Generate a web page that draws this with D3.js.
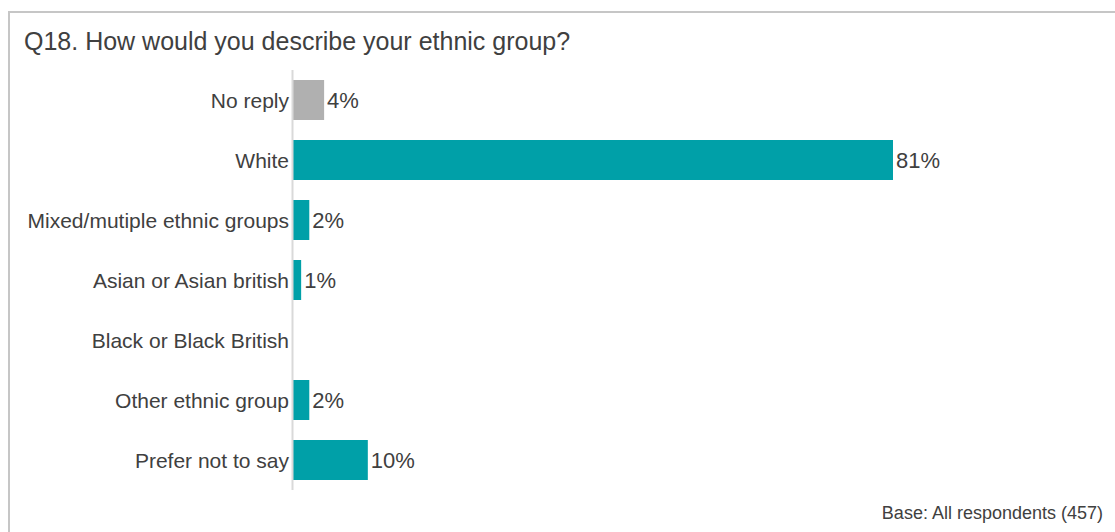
<!DOCTYPE html>
<html><head><meta charset="utf-8">
<script src="https://cdn.jsdelivr.net/npm/d3@7"></script>
<style>
body{margin:0;background:#fff;}
svg{display:block;font-family:"Liberation Sans",Arial,sans-serif;}
</style></head>
<body>
<script>
const categories = ["No reply","White","Mixed/mutiple ethnic groups","Asian or Asian british","Black or Black British","Other ethnic group","Prefer not to say"];
const values = [4.2, 81.0, 2.2, 1.1, 0, 2.2, 10.1];
const valueLabels = ["4%","81%","2%","1%","","2%","10%"];
const barColors = ["#b0b0b0","#00a0a8","#00a0a8","#00a0a8","#00a0a8","#00a0a8","#00a0a8"];
const title = "Q18. How would you describe your ethnic group?";
const baseNote = "Base: All respondents (457)";

const W = 1115, H = 532;
const svg = d3.select("body").append("svg").attr("width", W).attr("height", H);

// frame
svg.append("path").attr("d", `M9,${H} V12 H${W}`).attr("fill","none").attr("stroke","#c6c6c6").attr("stroke-width",2);

svg.append("text").attr("x",24).attr("y",50).attr("font-size",25).attr("fill","#404040").text(title);

const x0 = 293;
const x = d3.scaleLinear().domain([0, 81]).range([x0, 893]);
const y = d3.scaleBand().domain(categories).range([70, 490]).paddingInner(1/3).paddingOuter(1/6);

svg.append("g").selectAll("rect").data(categories).join("rect")
  .attr("x", x(0)).attr("y", d => y(d))
  .attr("width", (d,i) => x(values[i]) - x(0))
  .attr("height", y.bandwidth())
  .attr("fill", (d,i) => barColors[i]);

svg.append("line").attr("x1", x0-0.5).attr("x2", x0-0.5).attr("y1", 70).attr("y2", 490)
  .attr("stroke","#d9d9d9").attr("stroke-width",2);

svg.append("g").selectAll("text").data(categories).join("text")
  .attr("x", x0 - 4).attr("y", d => y(d) + y.bandwidth()/2).attr("dy","0.37em")
  .attr("text-anchor","end").attr("font-size",21).attr("fill","#404040").text(d => d);

svg.append("g").selectAll("text").data(categories).join("text")
  .attr("x", (d,i) => x(values[i]) + 3).attr("y", d => y(d) + y.bandwidth()/2).attr("dy","0.38em")
  .attr("font-size",22).attr("fill","#404040").text((d,i) => valueLabels[i]);

svg.append("text").attr("x",1103).attr("y",519).attr("text-anchor","end").attr("font-size",18).attr("fill","#404040").text(baseNote);
</script>
</body></html>
